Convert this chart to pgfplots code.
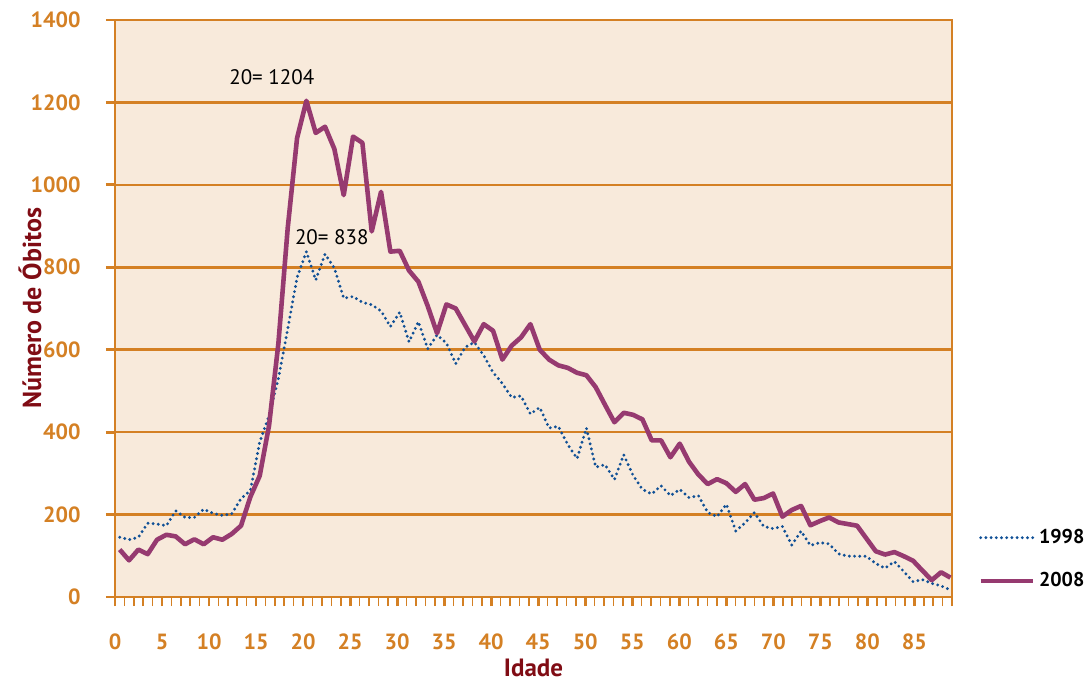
\documentclass[border=0pt]{standalone}
\usepackage{pgfplots}
\pgfplotsset{compat=1.18}
\usepackage{pgfplotstable}
\usepackage{fontspec}
\setmainfont{PT Sans}
\definecolor{bg}{RGB}{248,234,219}
\definecolor{org}{RGB}{212,128,36}
\definecolor{dred}{RGB}{128,12,20}
\definecolor{purp}{RGB}{150,58,112}
\definecolor{blu}{RGB}{16,80,150}
\pgfplotstableread{
a v98 v08
0 145 115
1 139 89
2 145 115
3 179 104
4 177 139
5 173 151
6 209 147
7 193 128
8 193 140
9 213 128
10 203 145
11 198 139
12 202 153
13 239 173
14 258 243
15 376 294
16 440 416
17 530 615
18 650 895
19 775 1113
20 838 1204
21 769 1126
22 832 1141
23 798 1087
24 725 975
25 729 1117
26 715 1102
27 709 887
28 694 983
29 656 838
30 691 840
31 619 792
32 668 765
33 602 706
34 636 640
35 616 710
36 566 700
37 606 660
38 618 620
39 586 662
40 545 646
41 518 576
42 484 610
43 488 630
44 444 662
45 460 600
46 410 576
47 414 562
48 370 556
49 336 544
50 410 538
51 315 509
52 321 466
53 285 424
54 345 447
55 295 442
56 261 431
57 250 380
58 270 380
59 246 339
60 261 372
61 241 328
62 246 297
63 205 274
64 195 286
65 225 276
66 160 255
67 180 274
68 205 236
69 171 240
70 166 251
71 171 195
72 126 211
73 160 221
74 125 174
75 132 184
76 129 193
77 105 181
78 99 177
79 99 173
80 99 142
81 81 111
82 70 103
83 86 109
84 62 99
85 37 88
86 42 64
87 33 41
88 27 60
89 17 47
}\data
\begin{document}
\begin{tikzpicture}
\begin{axis}[
  name=ax,
  scale only axis, width=418.5pt, height=288.5pt,
  xmin=0, xmax=89, ymin=0, ymax=1400,
  axis background/.style={fill=bg},
  axis line style={org, line width=1.4pt},
  ytick={0,200,...,1400},
  xtick={0,5,...,85},
  minor xtick={0,...,89},
  extra x ticks={89}, extra x tick labels={},
  ymajorgrids, grid style={org, line width=1.3pt},
  tick align=outside, tick pos=left,
  major tick length=4.5pt, minor tick length=4.5pt,
  every major tick/.append style={org, line width=1.4pt},
  every minor tick/.append style={org, line width=0.8pt},
  every extra x tick/.append style={org, line width=1.4pt},
  ticklabel style={font=\bfseries\fontsize{11}{13}\selectfont, text=org, inner sep=0pt},
  xticklabel style={anchor=center, yshift=-18pt},
  yticklabel style={anchor=east, xshift=-12.5pt},
  /pgf/number format/assume math mode=true,
  /pgf/number format/1000 sep={},
  xlabel={Idade}, ylabel={Número de Óbitos},
  label style={font=\bfseries\fontsize{12.5}{14}\selectfont, text=dred},
  ylabel style={font=\bfseries\fontsize{13}{15}\selectfont},
  xlabel style={at={(axis description cs:0.5,-0.123)}, anchor=center},
  ylabel style={at={(axis description cs:-0.1016,0.5)}, anchor=center},
  legend style={at={(axis description cs:1,0)}, anchor=south west, xshift=13pt, yshift=1.5pt,
    draw=none, fill=none, font=\bfseries\fontsize{10}{12}\selectfont, text=black,
    row sep=9pt, inner sep=0pt},
  legend cell align=left,
  legend image code/.code={\draw[#1] (0pt,0pt) -- (26pt,0pt);},
]
\addplot[blu, line width=1.6pt, line cap=round, dash pattern=on 0pt off 2.6pt]
  table[x expr=0.5+0.9925*\thisrow{a}, y=v98] {\data};
\addlegendentry{1998}
\addplot[purp, line width=2.3pt, line join=round]
  table[x expr=0.5+0.9925*\thisrow{a}, y=v08] {\data};
\addlegendentry{2008}
\node[font=\fontsize{10.5}{12}\selectfont, text=black] at (axis cs:16.67,1262) {20= 1204};
\node[font=\fontsize{10.5}{12}\selectfont, text=black] at (axis cs:23.05,874) {20= 838};
\end{axis}
\pgfresetboundingbox
\path[use as bounding box] ([shift={(-57.5pt,-43pt)}]ax.south west) rectangle ([shift={(68pt,10pt)}]ax.north east);
\end{tikzpicture}
\end{document}
